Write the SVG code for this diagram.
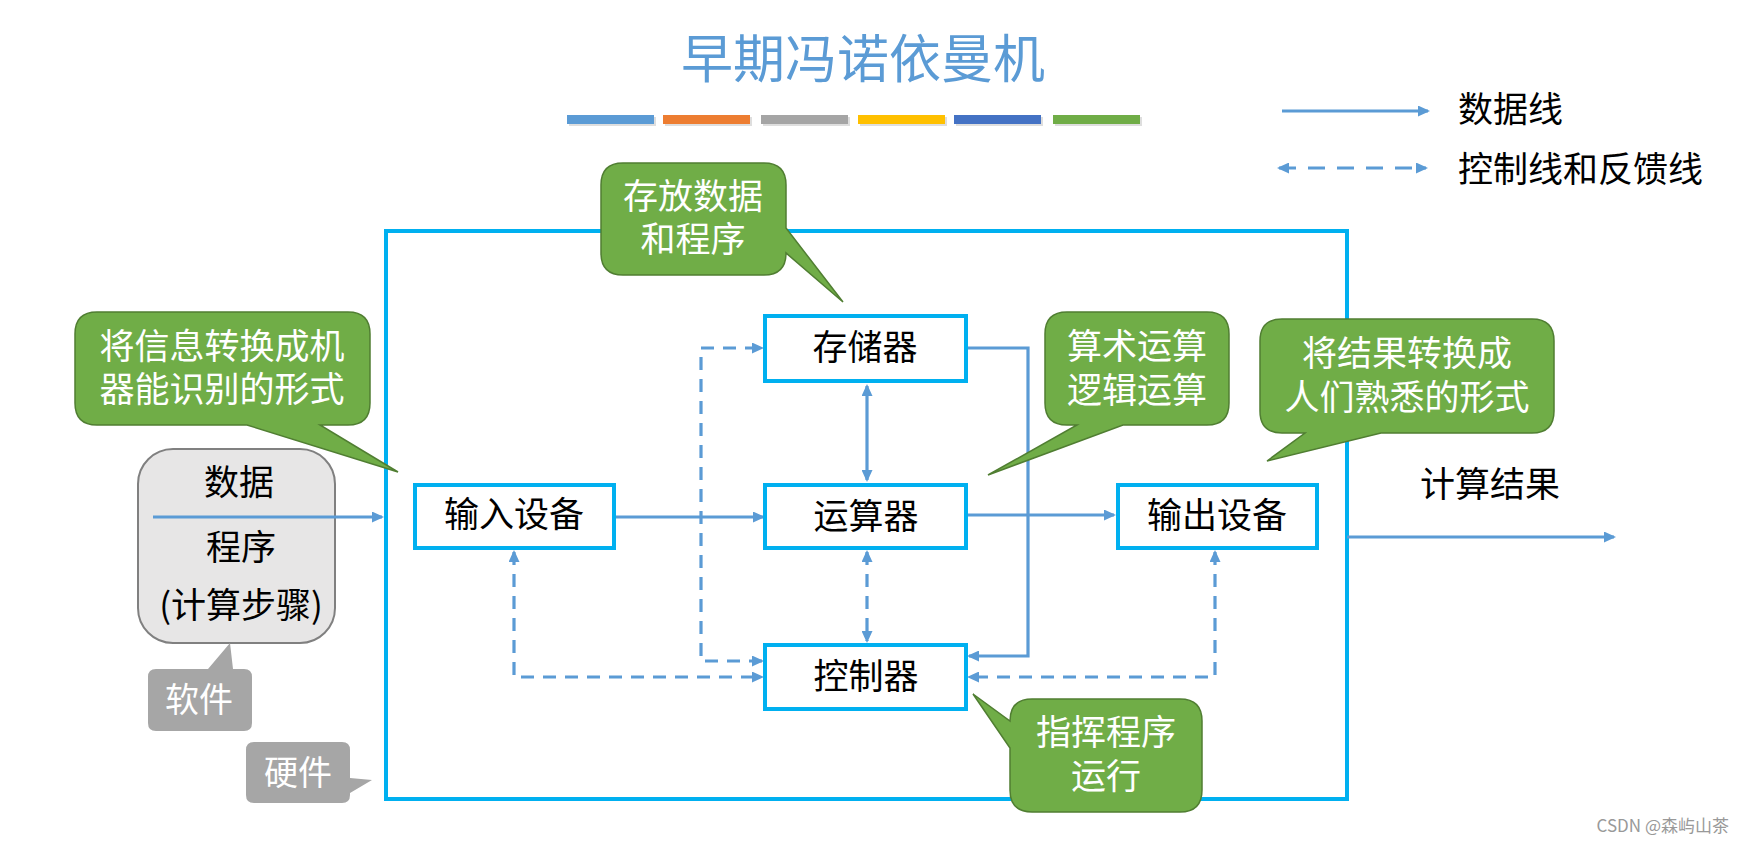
<svg xmlns="http://www.w3.org/2000/svg" width="1746" height="843" viewBox="0 0 1746 843">
<style>
text{font-family:"Noto Sans CJK SC","Liberation Sans",sans-serif;}
.t{font-size:35px;fill:#000;text-anchor:middle;}
.w{font-size:35px;fill:#fff;text-anchor:middle;}
.g{fill:#fff;font-size:34px;text-anchor:middle;}
.node{fill:#fff;stroke:#00B0F0;stroke-width:4;}
.call{fill:#70AD47;stroke:#507E32;stroke-width:1.5;}
.gray{fill:#A6A6A6;stroke:none;}
.ln{fill:none;stroke:#5B9BD5;stroke-width:3.2;}
.dl{fill:none;stroke:#5B9BD5;stroke-width:3.2;stroke-dasharray:13 9;}
</style>
<defs>
<marker id="ah" viewBox="0 0 12 11" refX="10" refY="5.5" markerWidth="12" markerHeight="11" markerUnits="userSpaceOnUse" orient="auto-start-reverse">
<path d="M0,0 L12,5.5 L0,11 Z" fill="#5B9BD5"/>
</marker>
</defs>
<rect width="1746" height="843" fill="#fff"/>

<g id="title">
<text x="863" y="78" style="font-size:52px;fill:#5B9BD5;text-anchor:middle">早期冯诺依曼机</text>
<g opacity="0.25" fill="#808080">
<rect x="569" y="117" width="87" height="9"/><rect x="665" y="117" width="87" height="9"/><rect x="763" y="117" width="87" height="9"/><rect x="860" y="117" width="87" height="9"/><rect x="956" y="117" width="87" height="9"/><rect x="1055" y="117" width="87" height="9"/>
</g>
<rect x="567" y="115" width="87" height="9" fill="#5B9BD5"/>
<rect x="663" y="115" width="87" height="9" fill="#ED7D31"/>
<rect x="761" y="115" width="87" height="9" fill="#A5A5A5"/>
<rect x="858" y="115" width="87" height="9" fill="#FFC000"/>
<rect x="954" y="115" width="87" height="9" fill="#4472C4"/>
<rect x="1053" y="115" width="87" height="9" fill="#70AD47"/>
</g>

<g id="legend">
<path class="ln" d="M1282,111 H1428" marker-end="url(#ah)"/>
<path class="dl" d="M1279,168 H1426" style="stroke-dasharray:17 12" marker-start="url(#ah)" marker-end="url(#ah)"/>
<text x="1458" y="122" style="font-size:35px;fill:#000">数据线</text>
<text x="1458" y="182" style="font-size:35px;fill:#000">控制线和反馈线</text>
</g>

<g id="hardware-frame">
<rect x="386" y="231" width="961" height="568" fill="none" stroke="#00B0F0" stroke-width="4"/>
</g>

<g id="software-box">
<rect x="138" y="449" width="197" height="194" rx="35" fill="#E7E6E6" stroke="#808080" stroke-width="2"/>
<text class="t" x="239" y="495">数据</text>
<text class="t" x="241" y="560">程序</text>
<text class="t" x="241" y="618">(计算步骤)</text>
</g>

<g id="connectors">
<path class="ln" d="M153,517 H382" marker-end="url(#ah)"/>
<path class="ln" d="M615,517 H763" marker-end="url(#ah)"/>
<path class="ln" d="M966,515 H1114" marker-end="url(#ah)"/>
<path class="ln" d="M1347,537 H1614" marker-end="url(#ah)"/>
<path class="ln" d="M966,348 H1028 V656 H969" marker-end="url(#ah)"/>
<path class="ln" d="M867,386 V480" marker-start="url(#ah)" marker-end="url(#ah)"/>
<path class="dl" d="M867,552 V641" marker-start="url(#ah)" marker-end="url(#ah)"/>
<path class="dl" d="M514,552 V677 H762" marker-start="url(#ah)" marker-end="url(#ah)"/>
<path class="dl" d="M762,661 H701 V348 H762" marker-start="url(#ah)" marker-end="url(#ah)"/>
<path class="dl" d="M1215,552 V677 H969" marker-start="url(#ah)" marker-end="url(#ah)"/>
</g>

<g id="input">
<rect class="node" x="415" y="485" width="199" height="63"/>
<text class="t" x="514" y="527">输入设备</text>
</g>
<g id="memory">
<rect class="node" x="765" y="316" width="201" height="65"/>
<text class="t" x="865" y="360">存储器</text>
</g>
<g id="alu">
<rect class="node" x="765" y="485" width="201" height="63"/>
<text class="t" x="866" y="529">运算器</text>
</g>
<g id="output">
<rect class="node" x="1118" y="485" width="199" height="63"/>
<text class="t" x="1217" y="528">输出设备</text>
</g>
<g id="controller">
<rect class="node" x="765" y="645" width="201" height="64"/>
<text class="t" x="866" y="689">控制器</text>
</g>
<g id="result-label">
<text x="1420" y="497" style="font-size:35px;fill:#000">计算结果</text>
</g>

<g id="callout-input">
<path class="call" d="M97,312 H348 Q370,312 370,334 V403 Q370,425 348,425 H320 L398,472 L247,425 H97 Q75,425 75,403 V334 Q75,312 97,312 Z"/>
<text class="w" x="222" y="359">将信息转换成机</text>
<text class="w" x="222" y="402">器能识别的形式</text>
</g>
<g id="callout-memory">
<path class="call" d="M623,163 H764 Q786,163 786,185 V228 L843,302 L786,253 Q786,275 764,275 H623 Q601,275 601,253 V185 Q601,163 623,163 Z"/>
<text class="w" x="693" y="209">存放数据</text>
<text class="w" x="693" y="252">和程序</text>
</g>
<g id="callout-alu">
<path class="call" d="M1067,312 H1207 Q1229,312 1229,334 V403 Q1229,425 1207,425 H1123 L988,475 L1077,425 H1067 Q1045,425 1045,403 V334 Q1045,312 1067,312 Z"/>
<text class="w" x="1137" y="359">算术运算</text>
<text class="w" x="1137" y="403">逻辑运算</text>
</g>
<g id="callout-output">
<path class="call" d="M1282,319 H1532 Q1554,319 1554,341 V411 Q1554,433 1532,433 H1381 L1267,461 L1305,433 H1282 Q1260,433 1260,411 V341 Q1260,319 1282,319 Z"/>
<text class="w" x="1407" y="366">将结果转换成</text>
<text class="w" x="1407" y="410">人们熟悉的形式</text>
</g>
<g id="callout-controller">
<path class="call" d="M1032,699 H1180 Q1202,699 1202,721 V790 Q1202,812 1180,812 H1032 Q1010,812 1010,790 V748 L973,694 L1010,721 Q1010,699 1032,699 Z"/>
<text class="w" x="1106" y="745">指挥程序</text>
<text class="w" x="1106" y="789">运行</text>
</g>
<g id="callout-software">
<path class="gray" d="M156,669 H208 L230,643 L233,669 H244 Q252,669 252,677 V723 Q252,731 244,731 H156 Q148,731 148,723 V677 Q148,669 156,669 Z"/>
<text class="g" x="199" y="712">软件</text>
</g>
<g id="callout-hardware">
<path class="gray" d="M254,742 H342 Q350,742 350,750 V778 L372,780 L350,793 V795 Q350,803 342,803 H254 Q246,803 246,795 V750 Q246,742 254,742 Z"/>
<text class="g" x="298" y="785">硬件</text>
</g>

<text x="1729" y="832" style="font-size:17px;fill:#999;text-anchor:end">CSDN @森屿山茶</text>
</svg>
